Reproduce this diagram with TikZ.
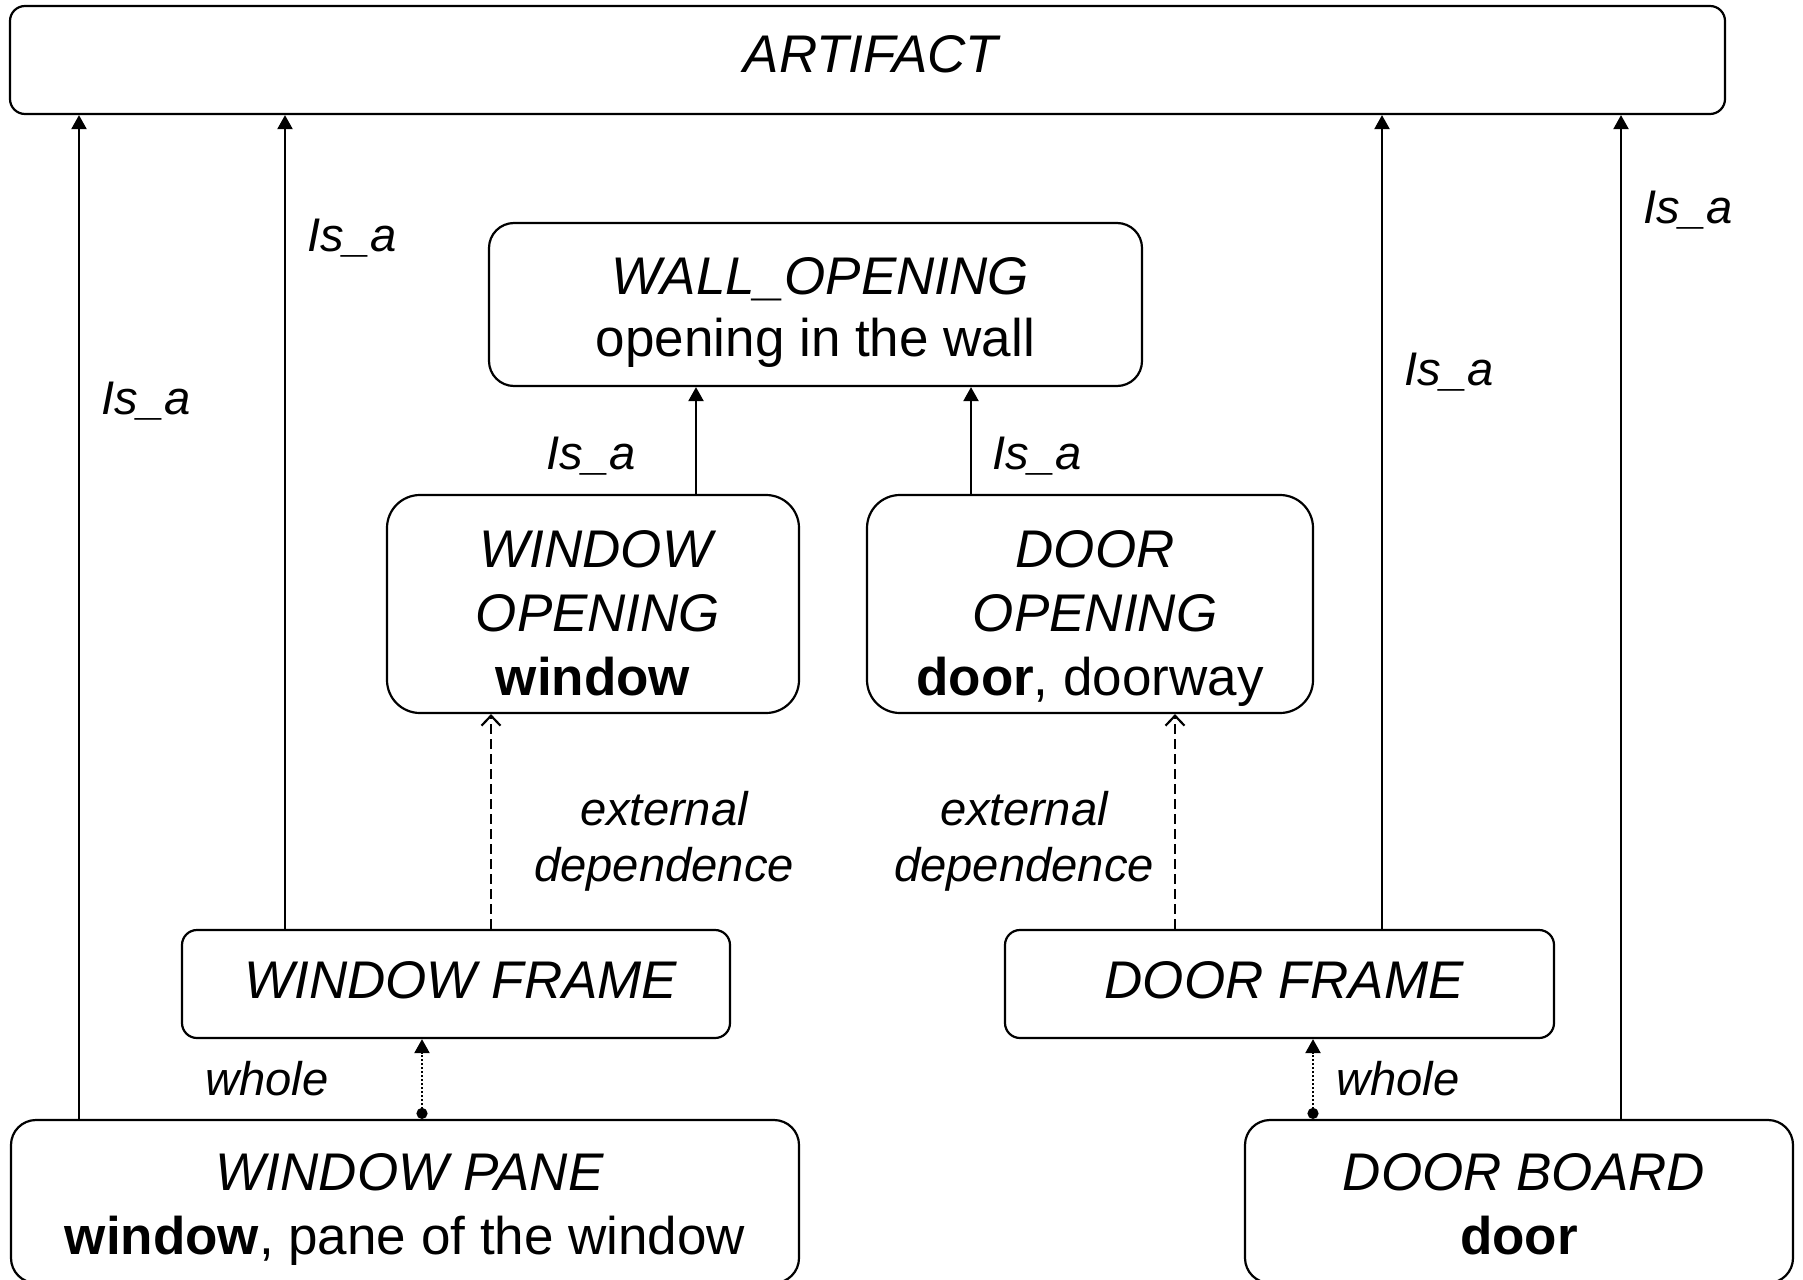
\documentclass[tikz,border=0pt]{standalone}
\usepackage{fontspec}
\setmainfont{Liberation Sans}
\usetikzlibrary{arrows.meta}

% centred lines stacked with a fixed baseline distance; the box's baseline is the first line's
\newcommand{\boxlines}[2]{\vtop{\baselineskip=#1\lineskiplimit=-100pt\lineskip=0pt
  \halign{\hfil##\hfil\cr#2\cr}}}
% concept names: italic, optically centred
\newcommand{\cname}[1]{\kern5pt\textit{#1}}

\tikzset{
  box/.style={draw, line width=1.1pt, rounded corners=#1, inner sep=0pt},
  txt/.style={inner sep=0pt, anchor=base, font=\fontsize{26.5}{32}\selectfont},
  lbl/.style={font=\fontsize{23.6}{28}\selectfont\itshape, inner sep=0pt, align=center},
  isa/.style={line width=1.1pt, -{Triangle[length=7pt,width=7.5pt]}},
  ext/.style={line width=1.1pt, dash pattern=on 5pt off 2.5pt,
    -{Straight Barb[length=5pt,width=9.5pt]}},
  whl/.style={line width=1.1pt, dash pattern=on 1pt off 1pt,
    {Circle[length=5.5pt]}-{Triangle[length=7pt,width=7.5pt]}},
}

\begin{document}
\begin{tikzpicture}[x=0.5pt, y=-0.5pt]
  \useasboundingbox (0,0) rectangle (1803,1279);
  \clip (0,0) rectangle (1803,1279);

  % concept boxes
  \node[box=7.5pt, minimum width=857.5pt, minimum height=54pt] (art) at (867.5,60) {};
  \node[box=12.5pt, minimum width=326.5pt, minimum height=81.5pt] (wall) at (815.5,304.5) {};
  \node[box=16.5pt, minimum width=206pt, minimum height=109pt] (winop) at (593,604) {};
  \node[box=16.5pt, minimum width=223pt, minimum height=109pt] (doorop) at (1090,604) {};
  \node[box=7.5pt, minimum width=274pt, minimum height=54pt] (winfr) at (456,984) {};
  \node[box=7.5pt, minimum width=274.5pt, minimum height=54pt] (doorfr) at (1279.5,984) {};
  \node[box=12.5pt, minimum width=394pt, minimum height=81.5pt] (winpane) at (405,1201.5) {};
  \node[box=12.5pt, minimum width=274pt, minimum height=81.5pt] (doorbd) at (1519,1201.5) {};

  % concept names and words
  \node[txt] (art-t) at (867.5,73) {\cname{ARTIFACT}};
  \node[txt] (wall-t) at (815.5,294)
    {\boxlines{31pt}{\cname{WALL\_OPENING}\cr opening in the wall}};
  \node[txt] (winop-t) at (593,567.5)
    {\boxlines{32pt}{\cname{WINDOW}\cr\cname{OPENING}\cr\textbf{window}}};
  \node[txt] (doorop-t) at (1090,567.5)
    {\boxlines{32pt}{\cname{DOOR}\cr\cname{OPENING}\cr\textbf{door}, doorway}};
  \node[txt] (winfr-t) at (456,998) {\cname{WINDOW FRAME}};
  \node[txt] (doorfr-t) at (1279.5,998) {\cname{DOOR FRAME}};
  \node[txt] (winpane-t) at (405,1190.5)
    {\boxlines{32pt}{\cname{WINDOW PANE}\cr\textbf{window}, pane of the window}};
  \node[txt] (doorbd-t) at (1519,1190.5)
    {\boxlines{32pt}{\cname{DOOR BOARD}\cr\textbf{door}}};

  % x positions of the vertical connectors
  \coordinate (xa) at (79,0);
  \coordinate (xb) at (285,0);
  \coordinate (xc) at (1382,0);
  \coordinate (xd) at (1621,0);
  \coordinate (xe) at (696,0);
  \coordinate (xf) at (971,0);
  \coordinate (xg) at (491,0);
  \coordinate (xh) at (1175,0);
  \coordinate (xi) at (422,0);
  \coordinate (xj) at (1313,0);

  % is-a links
  \draw[isa] (winpane.north -| xa) -- (art.south -| xa);
  \draw[isa] (winfr.north -| xb) -- (art.south -| xb);
  \draw[isa] (doorfr.north -| xc) -- (art.south -| xc);
  \draw[isa] (doorbd.north -| xd) -- (art.south -| xd);
  \draw[isa] (winop.north -| xe) -- (wall.south -| xe);
  \draw[isa] (doorop.north -| xf) -- (wall.south -| xf);

  % external dependence
  \draw[ext] (winfr.north -| xg) -- (winop.south -| xg);
  \draw[ext] (doorfr.north -| xh) -- (doorop.south -| xh);

  % part-whole
  \draw[whl] (winpane.north -| xi) -- (winfr.south -| xi);
  \draw[whl] (doorbd.north -| xj) -- (doorfr.south -| xj);

  % link labels
  \node[lbl, anchor=base] (l1) at (352,251) {Is\_a};
  \node[lbl, anchor=base] (l2) at (146,414) {Is\_a};
  \node[lbl, anchor=base] (l3) at (591,469) {Is\_a};
  \node[lbl, anchor=base] (l4) at (1037,469) {Is\_a};
  \node[lbl, anchor=base] (l5) at (1449,385) {Is\_a};
  \node[lbl, anchor=base] (l6) at (1688,223) {Is\_a};
  \node[lbl] (e1) at (664,841) {external\\dependence};
  \node[lbl] (e2) at (1024,841) {external\\dependence};
  \node[lbl] (w1) at (267,1079) {whole};
  \node[lbl] (w2) at (1398,1079) {whole};
\end{tikzpicture}
\end{document}
